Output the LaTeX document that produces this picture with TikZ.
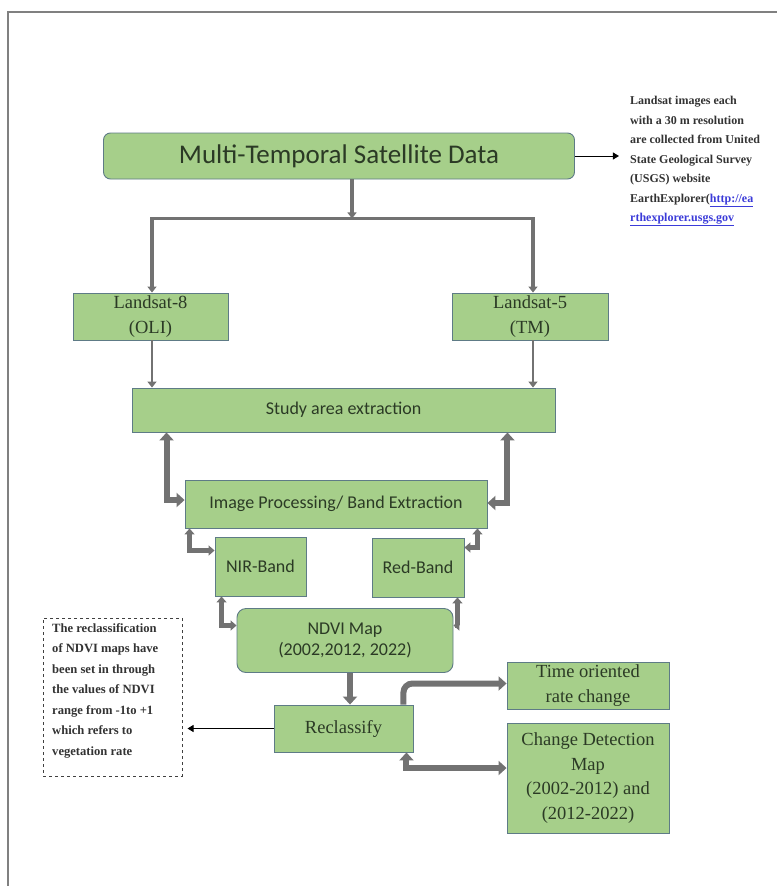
\documentclass[tikz,border=0pt]{standalone}
\usepackage{fontspec}
\setmainfont{Carlito}
\newfontfamily\camb{Liberation Serif}
\usetikzlibrary{arrows.meta,calc}
\definecolor{boxgreen}{HTML}{A6CF8A}
\definecolor{boxline}{HTML}{5E7B86}
\definecolor{txt}{HTML}{2B3A25}
\definecolor{arrgray}{HTML}{727272}
\definecolor{linkblue}{HTML}{3B3BD9}
\begin{document}
\begin{tikzpicture}[x=1pt,y=-1pt,
  gbox/.style={draw=boxline, line width=0.9pt, fill=boxgreen, text=txt, align=center, inner sep=0pt},
  calib/.style={font=\fontsize{18}{21}\selectfont},
  cambf/.style={font=\camb\fontsize{18.5}{24.5}\selectfont},
  thinarr/.style={draw=black, line width=1pt, -{Triangle[width=7pt,length=6pt]}},
  bigarr/.style={draw=arrgray, line width=6pt, {Triangle[width=14pt,length=8pt]}-{Triangle[width=14pt,length=8pt]}},
  bigone/.style={draw=arrgray, line width=6pt, -{Triangle[width=14pt,length=8pt]}},
  smallarr/.style={draw=arrgray, line width=4.5pt, {Triangle[width=10pt,length=6pt]}-{Triangle[width=10pt,length=6pt]}},
  toparr/.style={draw=arrgray, line width=3.5pt, -{Triangle[width=9pt,length=6pt]}},
  note/.style={font=\camb\bfseries\fontsize{12}{19.5}\selectfont, text=black!80, align=left, inner sep=0pt},
  note2/.style={font=\camb\bfseries\fontsize{12.6}{20.5}\selectfont, text=black!80, align=left, inner sep=0pt}
]
\useasboundingbox (0,0) rectangle (777,886);
\fill[white] (0,0) rectangle (777,886);
% page frame
\draw[gray, line width=1.5pt] (8,886) -- (8,12) -- (777,12);

% nodes
\node[gbox, rounded corners=7pt, minimum width=471pt, minimum height=46pt,
      font=\fontsize{27}{30}\selectfont] (main) at (339,156) {Multi-Temporal Satellite Data};
\node[note, anchor=north west] (src) at (630,96) {Landsat images each\\with a 30 m resolution\\are collected from United\\State Geological Survey\\(USGS) website\\EarthExplorer(\textcolor{linkblue}{\underline{http://ea}}\\\textcolor{linkblue}{\underline{rthexplorer.usgs.gov}}};
\node[gbox, cambf, minimum width=155pt, minimum height=47pt] (L8) at (150.5,316.5) {Landsat-8\\(OLI)};
\node[gbox, cambf, minimum width=156pt, minimum height=47pt] (L5) at (530,316.5) {Landsat-5\\(TM)};
\node[gbox, calib, minimum width=423pt, minimum height=44pt] (study) at (343.5,410) {Study area extraction};
\node[gbox, calib, minimum width=302pt, minimum height=48pt] (img) at (336,504) {Image Processing/ Band Extraction};
\node[gbox, calib, minimum width=91pt, minimum height=59pt] (nir) at (260.5,566.5) {NIR-Band};
\node[gbox, calib, minimum width=92pt, minimum height=59pt] (red) at (418,567.5) {Red-Band};
\node[gbox, calib, rounded corners=9pt, minimum width=216pt, minimum height=64pt] (ndvi) at (345,640.5) {NDVI Map\\(2002,2012, 2022)};
\node[gbox, cambf, minimum width=139pt, minimum height=47pt] (recl) at (343.5,728.5) {Reclassify};
\node[gbox, cambf, minimum width=162pt, minimum height=47pt] (time) at (588,685.5) {Time oriented\\rate change};
\node[gbox, cambf, minimum width=162pt, minimum height=110pt] (cd) at (588,778) {Change Detection\\Map\\(2002-2012) and\\(2012-2022)};
\node[draw=black!75, dashed, line width=1pt, minimum width=139pt, minimum height=158pt, inner sep=0pt] (nbox) at (112.5,697) {};
\node[note2, anchor=north west] (ntext) at (52,623) {The reclassification\\of NDVI maps have\\been set in through\\the values of NDVI\\range from -1to +1\\which refers to\\vegetation rate};

% connectors
\draw[thinarr] (main.east) -- ++(44,0) coordinate (srcin);
\coordinate (j) at ([yshift=-39pt]main.south);
\draw[toparr] ([xshift=13pt]main.south) -- ([xshift=13pt]j);
\coordinate (jl) at ($(j -| L8.north)+(1.5,0)$);
\coordinate (jr) at ($(j -| L5.north)+(3,0)$);
\draw[arrgray, line width=2.5pt] (jl) -- (jr);
\draw[toparr] ([yshift=1pt]jl) -- (jl |- L8.north);
\draw[toparr] ([yshift=1pt]jr) -- (jr |- L5.north);
\draw[toparr, line width=2.5pt] ([xshift=1.5pt]L8.south) -- ([xshift=1.5pt]L8.south |- study.north);
\draw[toparr, line width=2.5pt] ([xshift=3pt]L5.south) -- ([xshift=3pt]L5.south |- study.north);

\draw[bigarr] ([xshift=35pt]study.south west) |- ([yshift=4pt]img.west);
\draw[bigarr] ([xshift=-48pt]study.south east) |- ([yshift=1pt]img.east);
\draw[smallarr] ([xshift=5pt]img.south west) |- ([yshift=16pt]nir.west);
\draw[smallarr] ([xshift=-10pt]img.south east) |- ([yshift=20pt]red.east);
\draw[smallarr] ([xshift=7pt]nir.south west) |- ([yshift=15pt]ndvi.west);
\draw[smallarr] ([xshift=-7pt]red.south east) |- ([yshift=15pt]ndvi.east);

\draw[bigone] ([xshift=5pt]ndvi.south) -- ([xshift=5pt]ndvi.south |- recl.north);
\draw[bigone, rounded corners=9pt] ([xshift=-10pt]recl.north east) |- ([yshift=2pt]time.west);
\draw[bigarr] ([xshift=-7pt]recl.south east) |- ([yshift=10pt]cd.west);
\draw[thinarr] (recl.west) -- ([xshift=5pt]recl.west -| nbox.east);
\end{tikzpicture}
\end{document}
